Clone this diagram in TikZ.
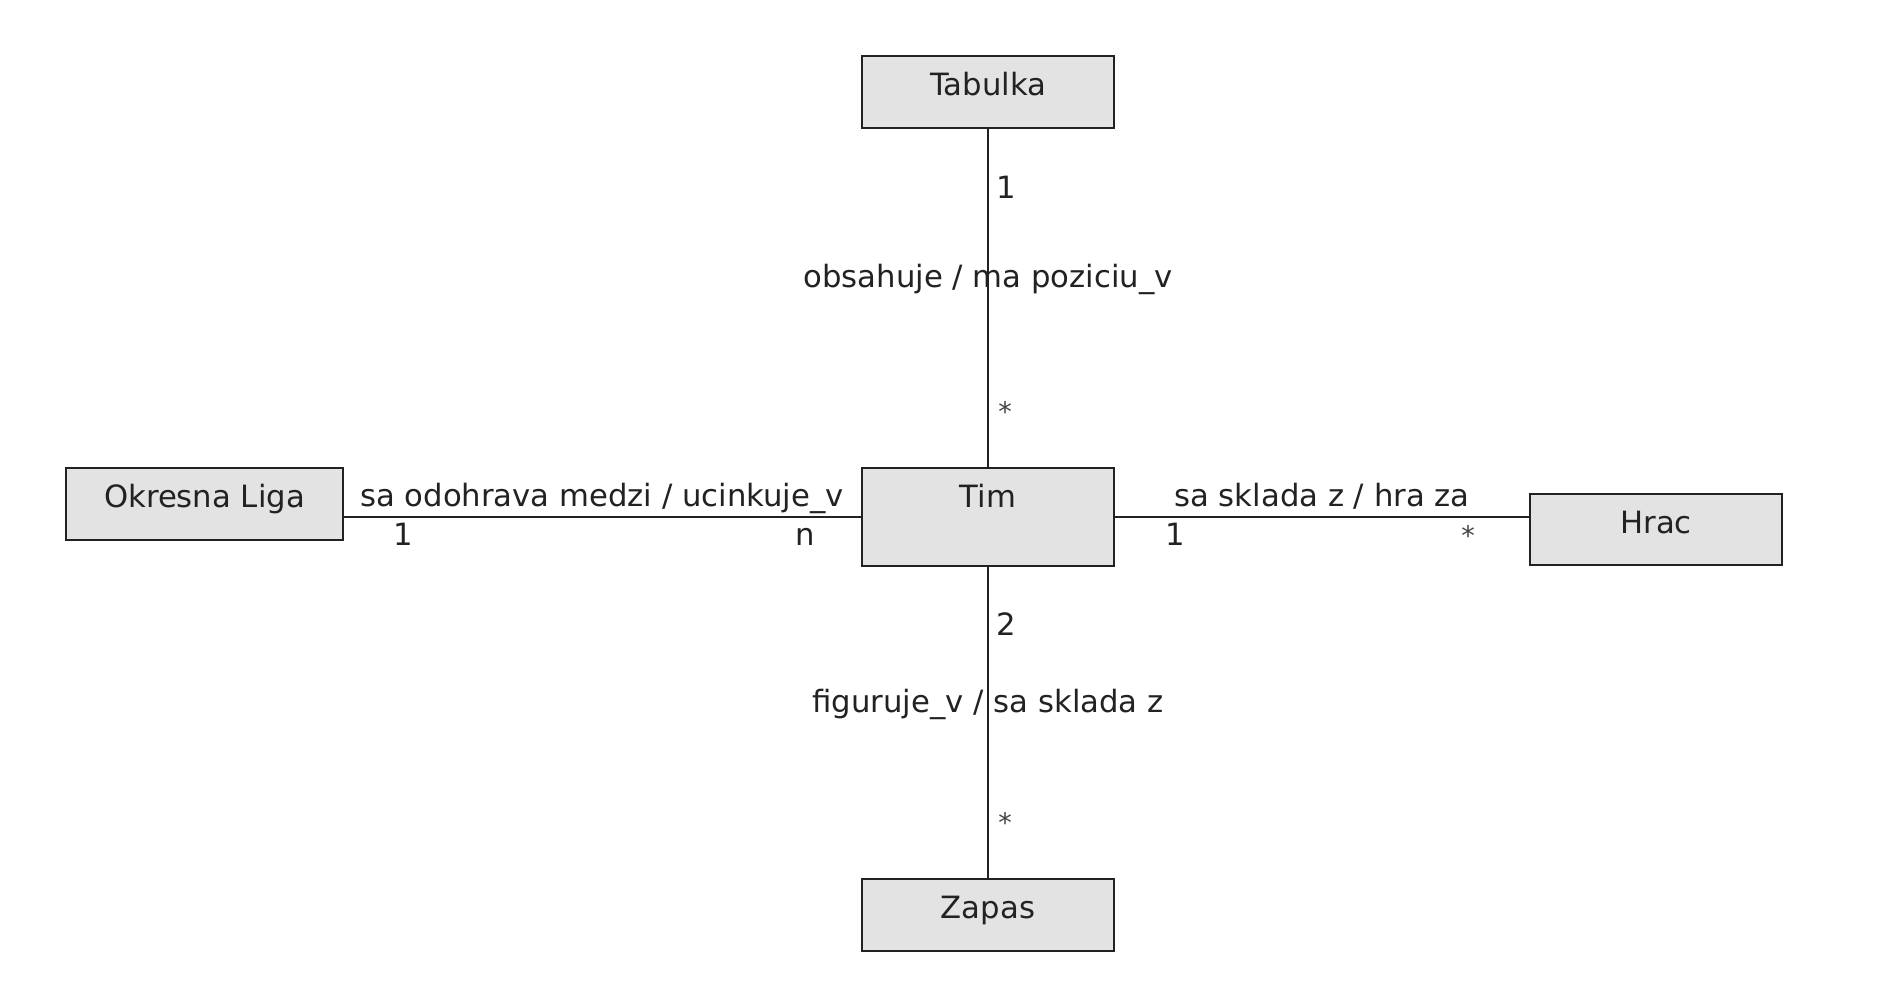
\documentclass[tikz,border=0pt]{standalone}
\usepackage{fontspec}
\setmainfont{DejaVu Sans}
\definecolor{boxfill}{HTML}{E3E3E3}
\definecolor{ink}{HTML}{222222}
\begin{document}
\begin{tikzpicture}[x=1pt,y=-1pt,
    every node/.style={font=\fontsize{30.7}{36}\selectfont,text=ink},
    entity/.style={draw=ink,fill=boxfill,line width=2.2pt,anchor=north,inner xsep=0pt,inner ysep=0pt,
        minimum width=252pt,text height=39pt,text depth=33pt},
    lbl/.style={inner sep=0pt,anchor=base},
    card/.style={inner sep=0pt,anchor=base west},
    star/.style={inner sep=0pt,anchor=center,font=\fontsize{27}{32}\selectfont,text=ink!85},
    assoc/.style={line width=2pt,draw=ink}]
                \useasboundingbox (0,0) rectangle (1900,982);
                \node[entity] (tabulka) at (988,55) {Tabulka};
                \node[entity,text depth=59pt] (tim) at (988,467) {Tim};
                \node[entity,minimum width=277pt] (liga) at (204.5,467) {Okresna Liga};
                \node[entity,text depth=32pt] (hrac) at (1656,493) {Hrac};
                \node[entity] (zapas) at (988,878) {Zapas};

                \draw[assoc] (tabulka) to (tim); \draw[assoc] (tim) to (zapas);
                \draw[assoc] (tim.west) to (tim.west -| liga.east);
                \draw[assoc] (tim.east) to (tim.east -| hrac.west);

                \node[lbl] (a1) at (988,287) {obsahuje / ma poziciu\_v};
                \node[lbl] (a2) at (988,712) {figuruje\_v / sa sklada z};
                \node[lbl] (a3) at (602,506) {sa odohrava medzi / ucinkuje\_v};
                \node[lbl] (a4) at (1322,506) {sa sklada z / hra za};

                \node[card] (c1) at (996,198) {1}; \node[star] (c2) at (1005,411) {*};
                \node[card] (c3) at (996,635) {2}; \node[star] (c4) at (1005,822) {*};
                \node[lbl] (c5) at (403,545) {1}; \node[lbl] (c6) at (805,545) {n};
                \node[lbl] (c7) at (1175,545) {1}; \node[star] (c8) at (1468,535) {*};
            \end{tikzpicture}
\end{document}
